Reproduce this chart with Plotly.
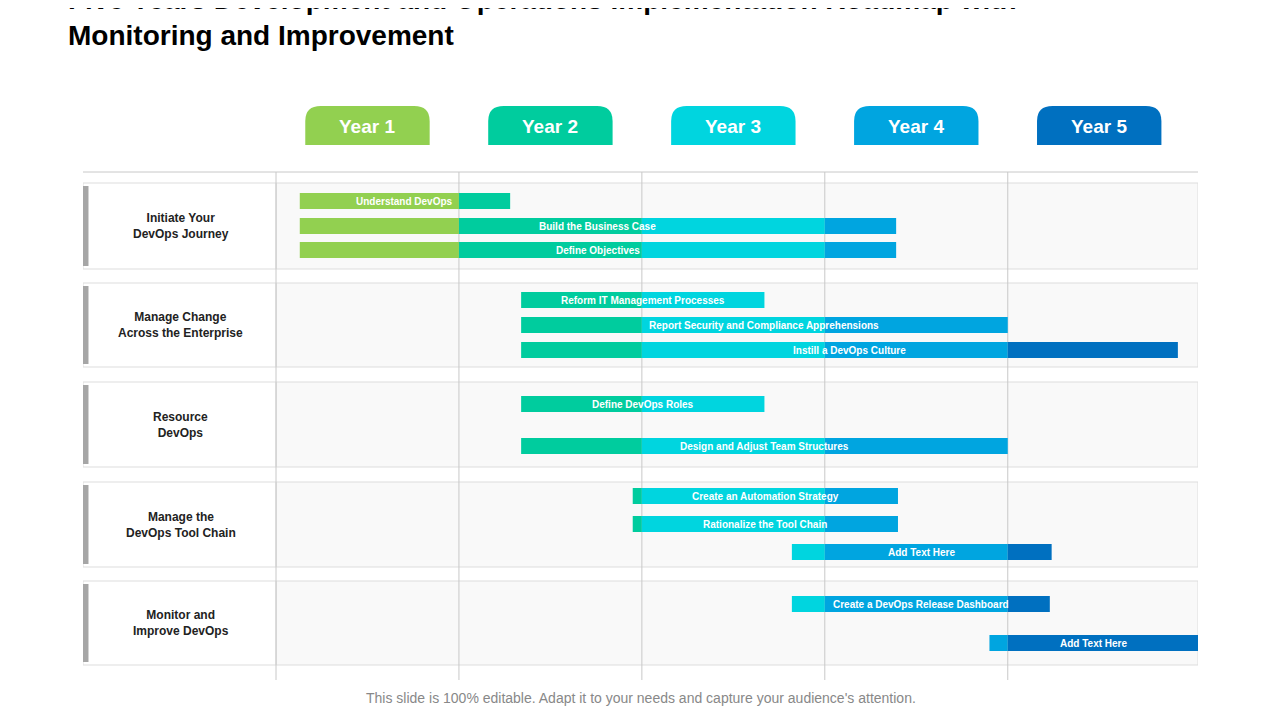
import plotly.graph_objects as go

# -----------------------------
# Data (x in years from start, y in row positions)
# -----------------------------
years = ["Year 1", "Year 2", "Year 3", "Year 4", "Year 5"]
year_colors = ["#92D050", "#00CC9E", "#00D5DF", "#00A5E0", "#0070C0"]

groups = ["Initiate Your<br>DevOps Journey", "Manage Change<br>Across the Enterprise",
          "Resource<br>DevOps", "Manage the<br>DevOps Tool Chain", "Monitor and<br>Improve DevOps"]
group_top = [183, 283, 382, 482, 581]
group_bottom = [269, 367, 467, 567, 665]

tasks = ["Understand DevOps", "Build the Business Case", "Define Objectives",
         "Reform IT Management Processes", "Report Security and Compliance Apprehensions",
         "Instill a DevOps Culture", "Define DevOps Roles", "Design and Adjust Team Structures",
         "Create an Automation Strategy", "Rationalize the Tool Chain", "Add Text Here",
         "Create a DevOps Release Dashboard", "Add Text Here"]
task_start = [0.13, 0.13, 0.13, 1.34, 1.34, 1.34, 1.34, 1.34, 1.95, 1.95, 2.82, 2.82, 3.90]
task_end = [1.28, 3.39, 3.39, 2.67, 4.00, 4.93, 2.67, 4.00, 3.40, 3.40, 4.24, 4.23, 5.04]
task_row = [201, 226, 250, 300, 325, 350, 404, 446, 496, 524, 552, 604, 643]

X_LEFT, X_RIGHT = -1.055, 5.04

fig = go.Figure()

# -----------------------------
# Bars split into per-year coloured segments
# -----------------------------
for i, col in enumerate(year_colors):
    bases, lens, ys = [], [], []
    for s, e, y in zip(task_start, task_end, task_row):
        a, b = max(s, i), min(e, i + 1 if i < 4 else 99)
        if b > a:
            bases.append(a); lens.append(b - a); ys.append(y)
    fig.add_trace(go.Bar(x=lens, base=bases, y=ys, orientation="h", width=16,
                         marker=dict(color=col, line_width=0), hoverinfo="skip",
                         showlegend=False))

# bar labels
for t, s, e, y in zip(tasks, task_start, task_end, task_row):
    fig.add_annotation(x=(s + e) / 2, y=y, text=f"<b>{t}</b>", showarrow=False,
                       font=dict(family="Liberation Sans Narrow, Arial Narrow, sans-serif",
                                 size=10, color="white"))

# -----------------------------
# Group boxes, labels, grid
# -----------------------------
shapes = []
for g, top, bot in zip(groups, group_top, group_bottom):
    shapes.append(dict(type="rect", x0=0, x1=X_RIGHT, y0=top, y1=bot, layer="below",
                       fillcolor="#F9F9F9", line=dict(color="#DDDDDD", width=1)))
    shapes.append(dict(type="rect", x0=X_LEFT, x1=0, y0=top, y1=bot, layer="below",
                       fillcolor="white", line=dict(color="#DDDDDD", width=1)))
    shapes.append(dict(type="rect", x0=X_LEFT, x1=X_LEFT + 0.03, y0=top + 3, y1=bot - 3,
                       layer="below", fillcolor="#A6A6A6", line_width=0))
    fig.add_annotation(x=-0.52, y=(top + bot) / 2, text=f"<b>{g}</b>", showarrow=False,
                       font=dict(family="Liberation Sans Narrow, Arial Narrow, sans-serif",
                                 size=12, color="#222222"))

for k in range(5):
    shapes.append(dict(type="line", x0=k, x1=k, y0=172, y1=680, layer="below",
                       line=dict(color="#C8C8C8", width=1)))
shapes.append(dict(type="line", x0=X_LEFT, x1=X_RIGHT, y0=172, y1=172, layer="below",
                   line=dict(color="#C8C8C8", width=1)))

# year tabs with rounded top corners
r, ry = 0.085, 15
for i, (yr, col) in enumerate(zip(years, year_colors)):
    x0, x1, y0, y1 = i + 0.16, i + 0.84, 106, 145
    path = (f"M {x0},{y1} L {x0},{y0 + ry} Q {x0},{y0} {x0 + r},{y0} "
            f"L {x1 - r},{y0} Q {x1},{y0} {x1},{y0 + ry} L {x1},{y1} Z")
    shapes.append(dict(type="path", path=path, fillcolor=col, line_width=0))
    fig.add_annotation(x=i + 0.5, y=126, text=f"<b>{yr}</b>", showarrow=False,
                       font=dict(family="Liberation Sans, Arial, sans-serif", size=19, color="white"))

fig.update_layout(
    width=1264, height=704, plot_bgcolor="white", paper_bgcolor="white",
    margin=dict(l=75, r=74, t=87, b=32), shapes=shapes, barmode="overlay",
    xaxis=dict(range=[X_LEFT, X_RIGHT], visible=False, fixedrange=True),
    yaxis=dict(range=[680, 95], visible=False, fixedrange=True),
    title=dict(text="<b>Five Years Development and Operations Implementation Roadmap with<br>"
                    "Monitoring and Improvement</b>",
               x=60 / 1264, xanchor="left", y=1 - 1 / 704, yanchor="top",
               font=dict(family="Liberation Sans, Arial, sans-serif", size=28, color="black")),
)
fig.add_annotation(xref="paper", yref="paper", x=0.5, y=-18 / 585, yanchor="middle",
                   text="This slide is 100% editable. Adapt it to your needs and capture your audience's attention.",
                   showarrow=False, font=dict(family="Liberation Sans, Arial, sans-serif",
                                              size=14, color="#888888"))

fig.write_html("out.html")
